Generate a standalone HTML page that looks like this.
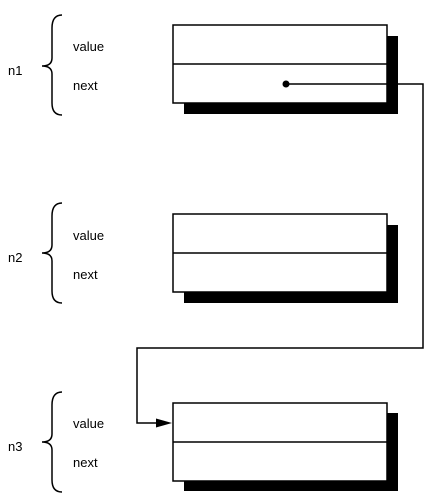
<!DOCTYPE html>
<html><head><style>html,body{margin:0;padding:0;background:#fff}svg{display:block}</style></head>
<body>
<svg width="435" height="501" viewBox="0 0 435 501" xmlns="http://www.w3.org/2000/svg" font-family="Liberation Sans, Arial, sans-serif" font-size="13" fill="#000">
<rect x="184" y="36" width="214" height="78" fill="#000"/>
<rect x="173" y="25" width="214" height="78" fill="#fff" stroke="#000" stroke-width="1.5"/>
<line x1="173" y1="64" x2="387" y2="64" stroke="#000" stroke-width="1.5"/>
<rect x="184" y="225" width="214" height="78" fill="#000"/>
<rect x="173" y="214" width="214" height="78" fill="#fff" stroke="#000" stroke-width="1.5"/>
<line x1="173" y1="253" x2="387" y2="253" stroke="#000" stroke-width="1.5"/>
<rect x="184" y="413" width="214" height="78" fill="#000"/>
<rect x="173" y="403" width="214" height="78" fill="#fff" stroke="#000" stroke-width="1.5"/>
<line x1="173" y1="442" x2="387" y2="442" stroke="#000" stroke-width="1.5"/>
<circle cx="286" cy="84" r="3.5"/>
<line x1="286" y1="84" x2="387" y2="84" stroke="#000" stroke-width="1.5"/>
<polyline points="398,84 423,84 423,348 137,348 137,423 160,423" fill="none" stroke="#000" stroke-width="1.5"/>
<polygon points="172,423 156,418.5 156,427.5"/>
<g fill="none" stroke="#000" stroke-width="1.5">
<path d="M62,15 Q52,15 52,28 L52,58 Q52,66 42,66 Q52,66 52,74 L52,103 Q52,115 62,115"/>
<path d="M62,203 Q52,203 52,216 L52,245 Q52,253 42,253 Q52,253 52,261 L52,291 Q52,303 62,303"/>
<path d="M62,392 Q52,392 52,405 L52,434 Q52,442 42,442 Q52,442 52,450 L52,480 Q52,492 62,492"/>
</g>
<text x="8" y="75">n1</text>
<text x="73" y="51">value</text>
<text x="73" y="90">next</text>
<text x="8" y="262">n2</text>
<text x="73" y="240">value</text>
<text x="73" y="279">next</text>
<text x="8" y="451">n3</text>
<text x="73" y="428">value</text>
<text x="73" y="467">next</text>
</svg>
</body></html>
